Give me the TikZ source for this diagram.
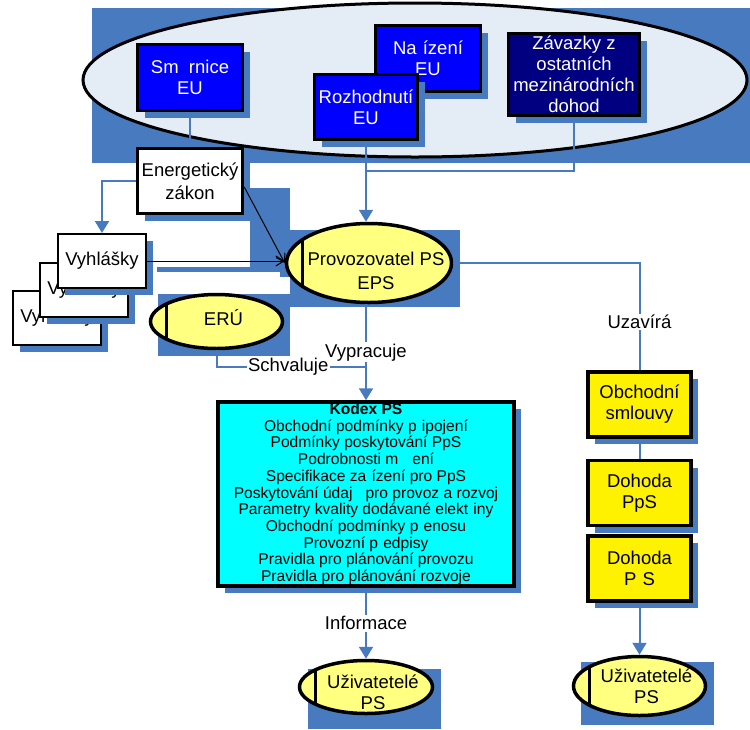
\documentclass[tikz,border=0pt]{standalone}
\usepackage{fontspec}
\setmainfont{Liberation Sans}
\usepackage{tikz}
\usetikzlibrary{positioning}
\usetikzlibrary{shapes,shadows,calc,arrows.meta}
\definecolor{bgblue}{RGB}{72,122,192}
\definecolor{pale}{RGB}{228,236,246}
\definecolor{eublue}{RGB}{0,0,255}
\definecolor{navy}{RGB}{0,0,128}
\definecolor{lemon}{RGB}{255,255,128}
\definecolor{aqua}{RGB}{0,255,255}
\newcommand{\bigfont}{\fontsize{18.5}{21}\selectfont}
\tikzset{
	blueshadow/.style = {drop shadow={shadow xshift=7pt, shadow yshift=-7pt, fill=bgblue, opacity=1}},
	eu/.style = {rectangle, draw, line width=3.5pt, fill=eublue, text=white, align=center,
		inner sep=0pt, blueshadow, font=\bigfont},
	plainbox/.style = {rectangle, draw, line width=3.5pt, fill=white, align=center,
		inner sep=0pt, blueshadow, font=\bigfont},
	vyhl/.style = {rectangle, draw, line width=2pt, fill=white, minimum width=88pt,
		minimum height=54pt, inner sep=0pt, blueshadow, font=\bigfont},
	contract/.style = {rectangle, draw, line width=3.5pt, fill=yellow, align=center,
		minimum width=103pt, minimum height=65pt, inner sep=0pt, blueshadow, font=\bigfont},
	kodexbox/.style = {rectangle, draw, line width=3.5pt, fill=aqua, align=center,
		inner sep=0pt, blueshadow, font=\fontsize{15.6}{16.7}\selectfont},
	party/.style 2 args = {ellipse, draw, line width=3.5pt, fill=lemon, inner sep=0pt,
		path picture={\draw[line width=3pt] ([xshift=16pt]path picture bounding box.north west)
			-- ([xshift=16pt]path picture bounding box.south west);},
		label={[xshift=7pt, yshift=#2, align=center, font=\bigfont]center:#1}},
	conn/.style = {draw=bgblue, line width=2pt},
	arr/.style = {conn, -{Triangle[width=14pt,length=12pt]}},
	thinarr/.style = {draw=black, line width=1pt, -{Straight Barb[length=8pt,width=10pt]}},
	lbl/.style = {fill=white, inner sep=1.5pt, font=\bigfont},
}
\begin{document}
\begin{tikzpicture}[x=1pt, y=-1pt]
\useasboundingbox (0,0) rectangle (750,729);
% blue background
\fill[bgblue] (92,8) rectangle (750,163);
\fill[bgblue] (250,188) rectangle (290,268);
\fill[bgblue] (280,262) rectangle (290,277);
\fill[bgblue] (290,230) rectangle (460,307);
\fill[bgblue] (157,267) rectangle (287,272);
\fill[bgblue] (158,294) rectangle (290,356);
\fill[bgblue] (308,669) rectangle (441,729);
\fill[bgblue] (581,662) rectangle (714,725);
\draw[line width=3pt, fill=pale] (415,80) ellipse [x radius=332, y radius=77];

% EU
\node[eu, minimum width=105pt, minimum height=66pt] (smernice) at (190,77.5) {Sm\phantom{ě}rnice\\EU};
\node[eu, minimum width=105pt, minimum height=66pt] (narizeni) at (428,58.5) {Na\phantom{ř}ízení\\EU};
\node[eu, minimum width=103pt, minimum height=65pt] (rozhodnuti) at (366,107) {Rozhodnutí\\EU};
\node[eu, fill=navy, minimum width=131pt, minimum height=82pt] (zavazky) at (574,74.5)
	{Závazky z\\ostatních\\mezinárodních\\dohod};

\node[plainbox, minimum width=105pt, minimum height=65pt, font=\fontsize{18.5}{23}\selectfont] (zakon) at (190,181) {Energetický\\zákon};
\node[vyhl] (vyh3) at (57,318) {Vyhlášky};
\node[vyhl] (vyh2) at (84,289.5) {Vyhlášky};
\node[vyhl] (vyh1) at (102,261) {Vyhlášky};

\node[party={Provozovatel PS\\[3pt]EPS}{-8pt}, minimum width=165pt, minimum height=79pt] (provoz) at (369,263) {};
\node[party={ERÚ}{4pt}, minimum width=132pt, minimum height=54pt] (eru) at (216.5,321.5) {};

\node[kodexbox, minimum width=296pt, minimum height=184pt] (kodex) at (366,494)
	{\textbf{Kodex PS}\\Obchodní podmínky p\phantom{ř}ipojení\\Podmínky poskytování PpS\\
	Podrobnosti m\phantom{ěř}ení\\Specifikace za\phantom{ř}ízení pro PpS\\
	Poskytování údaj\phantom{ů} pro provoz a rozvoj\\Parametry kvality dodávané elekt\phantom{ř}iny\\
	Obchodní podmínky p\phantom{ř}enosu\\Provozní p\phantom{ř}edpisy\\
	Pravidla pro plánování provozu\\Pravidla pro plánování rozvoje};
\node[party={Uživatetelé\\PS}{-5pt}, minimum width=133pt, minimum height=53pt] (uziv1) at (366,687) {};

\node[contract] (obchodni) at (639.5,404.5) {Obchodní\\smlouvy};
\node[contract] (dohodapps) at (639.5,493) {Dohoda\\PpS};
\node[contract] (dohodaprs) at (639.5,568.5) {Dohoda\\P\phantom{ř}S};
\node[party={Uživatetelé\\PS}{0pt}, minimum width=132pt, minimum height=59pt] (uziv2) at (639.5,686) {};

% connectors
\coordinate (merge) at (366,171);
\coordinate (meet) at (366,367);
\path[conn] (smernice) edge (zakon);
\draw[arr] (rozhodnuti.south) -- (rozhodnuti.south |- provoz.north);
\draw[conn] (zavazky.south) |- (merge);
\draw[arr] (zakon.west) -| (vyh1.north);
\draw[thinarr] ([yshift=-6pt]zakon.east) -- (provoz.west);
\draw[thinarr] (vyh1.east) -- (vyh1.east -| provoz.west);
\draw[arr] (kodex.north |- provoz.south) -- node[lbl] {Vypracuje} (kodex.north);
\draw[conn] (eru.south) |- node[lbl, pos=0.74] {Schvaluje} (meet);
\draw[arr] (kodex.south) -- node[lbl] {Informace} (uziv1.north);
\draw[conn] (provoz.east) -| node[lbl, pos=0.775] {Uzavírá} (obchodni.north);
\path[conn] (obchodni) edge (dohodapps);
\draw[arr] (dohodaprs.south) -- (uziv2.north);
\end{tikzpicture}
\end{document}
